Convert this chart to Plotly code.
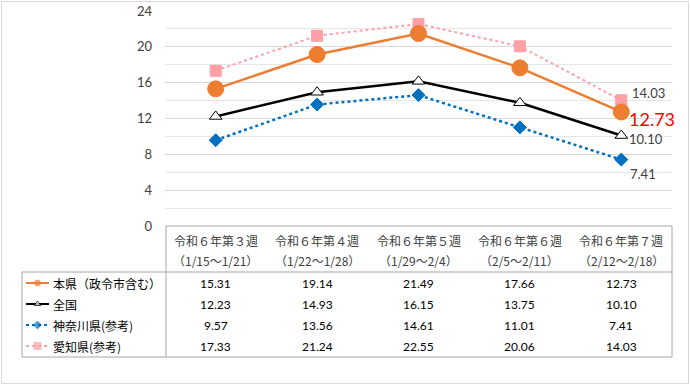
import plotly.graph_objects as go

# ---------------- data ----------------
weeks = ["令和６年第３週", "令和６年第４週", "令和６年第５週", "令和６年第６週", "令和６年第７週"]
periods = ["（1/15～1/21）", "（1/22～1/28）", "（1/29～2/4）", "（2/5～2/11）", "（2/12～2/18）"]
series_names = ["本県（政令市含む）", "全国", "神奈川県(参考)", "愛知県(参考)"]
honken = [15.31, 19.14, 21.49, 17.66, 12.73]
zenkoku = [12.23, 14.93, 16.15, 13.75, 10.10]
kanagawa = [9.57, 13.56, 14.61, 11.01, 7.41]
aichi = [17.33, 21.24, 22.55, 20.06, 14.03]
y_tick_vals = [0, 4, 8, 12, 16, 20, 24]

# ---------------- layout helpers ----------------
W, H = 690, 385
def fx(p):
    return p / W
def fy(p):
    return 1 - p / H

PLOT_L, PLOT_R, PLOT_T, PLOT_B = 165, 672, 11, 226
NUM_FONT = "Lato, Noto Sans CJK JP, sans-serif"
JP_FONT = "Noto Sans CJK JP, Lato, sans-serif"

styles = [
    dict(color="#ED7D31", dash="solid", width=2.5, symbol="circle", size=16,
         mcolor="#ED7D31", mline="#ED7D31", lsize=6),
    dict(color="#000000", dash="solid", width=2.5, symbol="triangle-up", size=11,
         mcolor="#FFFFFF", mline="#000000", lsize=6),
    dict(color="#0070C0", dash="dot", width=2.5, symbol="diamond", size=10,
         mcolor="#0070C0", mline="#0070C0", lsize=6),
    dict(color="#FF9FA6", dash="dot", width=2, symbol="square", size=11,
         mcolor="#FF9FA6", mline="#FF9FA6", lsize=7),
]
series_vals = [honken, zenkoku, kanagawa, aichi]
xs = list(range(len(weeks)))

fig = go.Figure()

# draw order: pink, blue, black, orange (orange on top)
for idx in [3, 2, 1, 0]:
    s = styles[idx]
    fig.add_trace(go.Scatter(
        x=xs, y=series_vals[idx], mode="lines+markers", name=series_names[idx],
        line=dict(color=s["color"], dash=s["dash"], width=s["width"]),
        marker=dict(symbol=s["symbol"], size=s["size"], color=s["mcolor"],
                    line=dict(color=s["mline"], width=1)),
        cliponaxis=False, showlegend=False, xaxis="x", yaxis="y"))

# legend keys in the table's left column (pixel overlay axis)
row_y = [283, 304, 325, 346]
for i, s in enumerate(styles):
    fig.add_trace(go.Scatter(
        x=[26, 37.5, 49], y=[row_y[i]] * 3, mode="lines+markers",
        line=dict(color=s["color"], dash=s["dash"], width=2),
        marker=dict(symbol=s["symbol"], size=[0, s["lsize"], 0], color=s["mcolor"],
                    line=dict(color=s["mline"], width=1)),
        showlegend=False, hoverinfo="skip", xaxis="x2", yaxis="y2"))

annotations = []
# header rows
for i in xs:
    annotations.append(dict(x=i, xref="x", y=fy(240), yref="paper", text=weeks[i],
                            xanchor="center", yanchor="middle",
                            showarrow=False, font=dict(family=JP_FONT, size=12, color="#404040")))
    annotations.append(dict(x=i, xref="x", y=fy(260), yref="paper", text=periods[i],
                            xanchor="center", yanchor="middle",
                            showarrow=False, font=dict(family=JP_FONT, size=12, color="#404040")))
# table values
for r, vals in enumerate(series_vals):
    for i in xs:
        annotations.append(dict(x=i, xref="x", y=fy(row_y[r]), yref="paper",
                                xanchor="center", yanchor="middle",
                                text=f"{vals[i]:.2f}", showarrow=False,
                                font=dict(family=NUM_FONT, size=12, color="#000000")))
    annotations.append(dict(x=fx(51), xref="paper", y=fy(row_y[r]), yref="paper",
                            text=series_names[r], xanchor="left", yanchor="middle",
                            showarrow=False,
                            font=dict(family=JP_FONT, size=12, color="#000000")))

# data labels at the last point
last = len(weeks) - 1
label_specs = [
    (0, "#FF0000", 18, 7, -7),
    (1, "#404040", 13, 7, -3),
    (2, "#404040", 13, 8, -14),
    (3, "#404040", 13, 10, 7),
]
for idx, col, sz, xsh, ysh in label_specs:
    annotations.append(dict(x=last, xref="x", y=series_vals[idx][last], yref="y",
                            text=f"{series_vals[idx][last]:.2f}", xanchor="left",
                            yanchor="middle", borderpad=0,
                            showarrow=False, xshift=xsh, yshift=ysh,
                            font=dict(family=NUM_FONT, size=sz, color=col)))

TBL = "#A6A6A6"
shapes = [
    # outer chart border
    dict(type="rect", xref="paper", yref="paper", x0=fx(1.5), x1=fx(688.5), y0=fy(1.5), y1=fy(383.5),
         line=dict(color="#D9D9D9", width=1)),
    # table lines
    dict(type="line", xref="paper", yref="paper", x0=fx(166), x1=fx(672), y0=fy(226), y1=fy(226),
         line=dict(color=TBL, width=1)),
    dict(type="line", xref="paper", yref="paper", x0=fx(672), x1=fx(672), y0=fy(226), y1=fy(357),
         line=dict(color=TBL, width=1)),
    dict(type="line", xref="paper", yref="paper", x0=fx(166), x1=fx(166), y0=fy(226), y1=fy(357),
         line=dict(color=TBL, width=1)),
    dict(type="line", xref="paper", yref="paper", x0=fx(22), x1=fx(672), y0=fy(272), y1=fy(272),
         line=dict(color=TBL, width=1)),
    dict(type="line", xref="paper", yref="paper", x0=fx(22), x1=fx(672), y0=fy(357), y1=fy(357),
         line=dict(color=TBL, width=1)),
    dict(type="line", xref="paper", yref="paper", x0=fx(22), x1=fx(22), y0=fy(272), y1=fy(357),
         line=dict(color=TBL, width=1)),
]

fig.update_layout(
    width=W, height=H, autosize=False,
    margin=dict(l=0, r=0, t=0, b=0, pad=0),
    paper_bgcolor="white", plot_bgcolor="rgba(0,0,0,0)",
    xaxis=dict(domain=[fx(PLOT_L), fx(PLOT_R)], range=[-0.5, len(weeks) - 0.5],
               showgrid=False, zeroline=False, showticklabels=False, showline=False,
               fixedrange=True, automargin=False),
    yaxis=dict(domain=[fy(PLOT_B), fy(PLOT_T)], range=[0, 24], tickvals=y_tick_vals,
               showgrid=True, gridcolor="#D9D9D9", gridwidth=1, zeroline=False,
               minor=dict(dtick=2, showgrid=True, gridcolor="#E6E6E6", gridwidth=1),
               ticklabelstandoff=12, showline=False, automargin=False,
               tickfont=dict(family=NUM_FONT, size=13, color="#404040")),
    xaxis2=dict(domain=[0, 1], range=[0, W], visible=False, anchor="y2", fixedrange=True),
    yaxis2=dict(domain=[0, 1], range=[H, 0], visible=False, anchor="x2", fixedrange=True),
    annotations=annotations,
    shapes=shapes,
    showlegend=False,
)

fig.write_html(
    "out.html",
    config=dict(displayModeBar=False),
    post_script="document.body.style.margin='0';document.body.style.overflow='hidden';",
)
